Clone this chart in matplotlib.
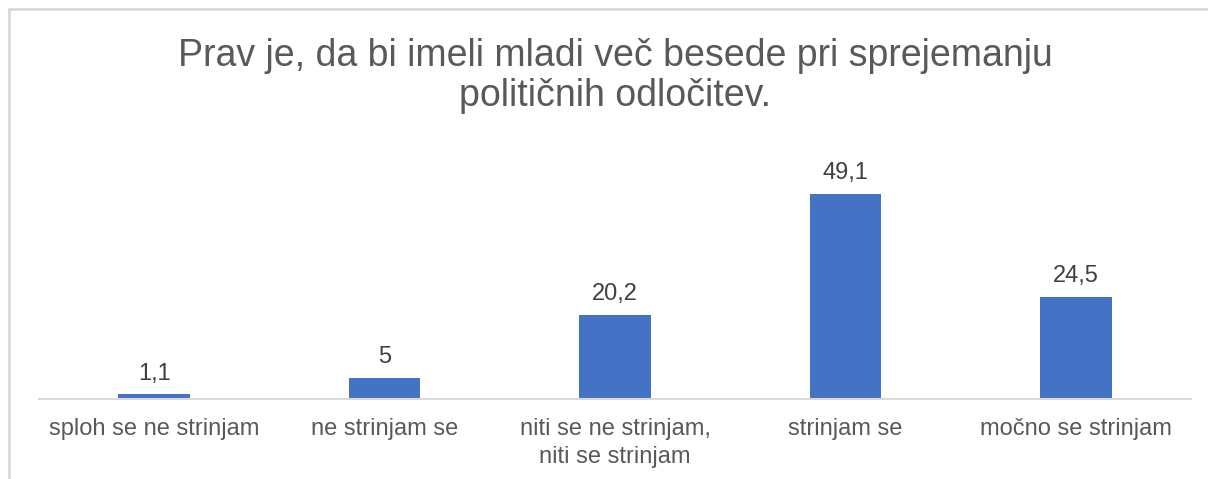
import matplotlib.pyplot as plt
from matplotlib.patches import Rectangle
import numpy as np

categories = ['sploh se ne strinjam', 'ne strinjam se',
              'niti se ne strinjam,\nniti se strinjam', 'strinjam se',
              'močno se strinjam']
values = [1.1, 5, 20.2, 49.1, 24.5]
value_labels = ['1,1', '5', '20,2', '49,1', '24,5']
title = 'Prav je, da bi imeli mladi več besede pri sprejemanju\npolitičnih odločitev.'

plt.rcParams['font.family'] = ['Liberation Sans', 'DejaVu Sans']

W, H = 1208, 479
fig = plt.figure(figsize=(W / 100, H / 100), dpi=100)

# outer chart border (only left and top visible, rest cropped)
fig.patches.append(Rectangle((9 / W, -0.1), 1.2, 1 - 9 / H + 0.1,
                             transform=fig.transFigure, fill=False,
                             edgecolor='#d9d9d9', linewidth=2))

# axes: x from 39 to 1191 px, baseline at y=399 px
ax_bottom = 1 - 399 / H
ax_height = 250 / H
ax = fig.add_axes([39 / W, ax_bottom, 1152 / W, ax_height])

x = np.arange(len(categories))
ax.bar(x, values, width=0.31, color='#4472C4', zorder=2)
ax.set_xlim(-0.5, len(categories) - 0.5)
ax.set_ylim(0, 250 / 4.175)

for xi, v, lab in zip(x, values, value_labels):
    ax.annotate(lab, (xi, v), xytext=(0, 7), textcoords='offset points',
                ha='center', va='bottom', fontsize=17, color='#404040')

ax.set_xticks(x)
ax.set_xticklabels(categories, fontsize=17, color='#595959', linespacing=1.3,
                   va='top')
ax.tick_params(axis='x', length=0, pad=14)
ax.set_yticks([])
for s in ['top', 'right', 'left']:
    ax.spines[s].set_visible(False)
ax.spines['bottom'].set_color('#d9d9d9')
ax.spines['bottom'].set_linewidth(1.5)

fig.text(615 / W, 1 - 76 / H, title, ha='center', va='center',
         fontsize=27, color='#595959', linespacing=1.17)

fig.savefig('out.png', dpi=100, facecolor='white')
